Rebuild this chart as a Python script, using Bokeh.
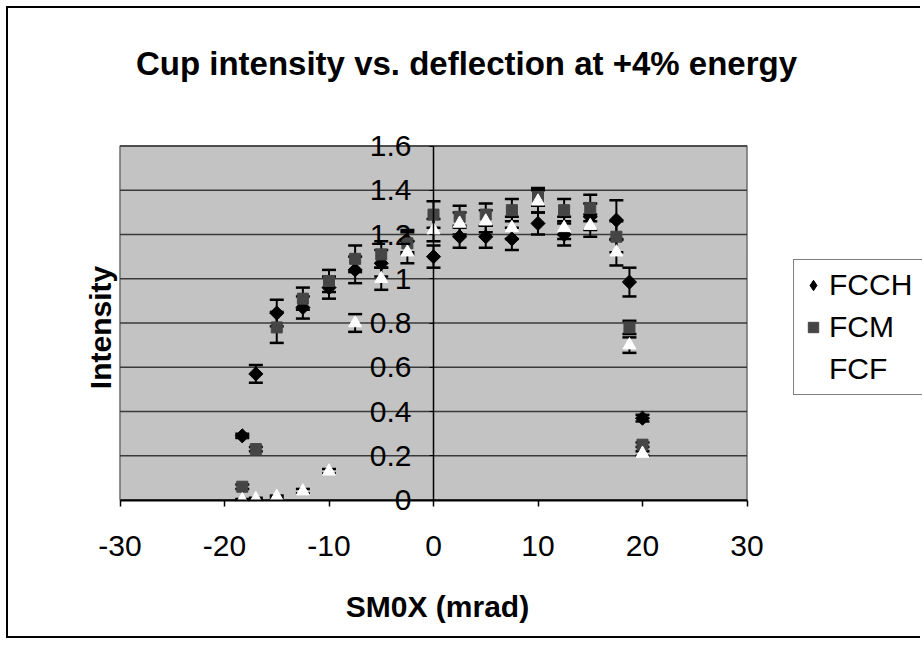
import math
from bokeh.plotting import figure
from bokeh.models import (ColumnDataSource, Whisker, TeeHead, Legend, LegendItem,
                          FixedTicker, Range1d, Label)
from bokeh.embed import file_html
from bokeh.resources import INLINE

# ---- data ----
x_vals = [-18.3, -17.0, -15.0, -12.5, -10.0, -7.5, -5.0, -2.5, 0.0, 2.5, 5.0, 7.5,
          10.0, 12.5, 15.0, 17.5, 18.75, 20.0]
fcch = [0.29, 0.57, 0.845, 0.87, 0.96, 1.04, 1.07, 1.17, 1.10, 1.19, 1.19, 1.18,
        1.25, 1.20, 1.28, 1.265, 0.985, 0.37]
fcch_err = [0.01, 0.04, 0.06, 0.05, 0.05, 0.06, 0.06, 0.05, 0.05, 0.05, 0.05, 0.05,
            0.05, 0.05, 0.06, 0.09, 0.065, 0.015]
fcm = [0.06, 0.23, 0.78, 0.91, 0.99, 1.09, 1.11, 1.16, 1.29, 1.28, 1.29, 1.31,
       1.37, 1.31, 1.32, 1.19, 0.78, 0.25]
fcm_err = [0.01, 0.01, 0.07, 0.05, 0.05, 0.06, 0.06, 0.05, 0.06, 0.05, 0.05, 0.05,
           0.04, 0.05, 0.06, 0.07, 0.03, 0.01]
fcf = [0.0, 0.005, 0.015, 0.04, 0.13, 0.80, 1.00, 1.12, 1.22, 1.25, 1.26, 1.23,
       1.35, 1.23, 1.24, 1.12, 0.70, 0.21]
fcf_err = [0.005, 0.005, 0.005, 0.01, 0.01, 0.04, 0.05, 0.05, 0.05, 0.05, 0.05, 0.05,
           0.05, 0.05, 0.05, 0.06, 0.035, 0.01]

x_min, x_max = -30, 30
y_min, y_max = 0.0, 1.6
x_ticks = [-30, -20, -10, 0, 10, 20, 30]
x_tick_labels = ["-30", "-20", "-10", "0", "10", "20", "30"]
y_ticks = [0, 0.2, 0.4, 0.6, 0.8, 1.0, 1.2, 1.4, 1.6]
y_tick_labels = ["0", "0.2", "0.4", "0.6", "0.8", "1", "1.2", "1.4", "1.6"]

title_text = "Cup intensity vs. deflection at +4% energy"
x_title = "SM0X (mrad)"
y_title = "Intensity"

FONT = "Liberation Sans"

# ---- layout (pixels inside the figure) ----
W, H = 914, 632
plot_left_px, plot_bottom_px = 111.5, 140.5
plot_w_px, plot_h_px = 627.0, 354.0
ux = (x_max - x_min) / plot_w_px
uy = (y_max - y_min) / plot_h_px
x_lo = x_min - plot_left_px * ux
y_lo = y_min - plot_bottom_px * uy

p = figure(width=W, height=H, output_backend="svg", toolbar_location=None,
           x_range=Range1d(x_lo, x_lo + W * ux), y_range=Range1d(y_lo, y_lo + H * uy),
           min_border=0, min_border_left=0, min_border_right=0,
           min_border_top=0, min_border_bottom=0,
           background_fill_color="white", border_fill_color="white",
           outline_line_color=None,
           styles={"margin-left": "6px", "margin-top": "6px",
                   "border-left": "2px solid black", "border-top": "2px solid black",
                   "border-bottom": "2px solid black"})

p.xgrid.visible = False
p.ygrid.visible = False

# plot area (gray) and horizontal gridlines
p.quad(left=[x_min], right=[x_max], bottom=[y_min], top=[y_max],
       fill_color="#c3c3c3", line_color="#6e6e6e", line_width=1.5, level="underlay")
p.segment(x0=[x_min] * len(y_ticks), x1=[x_max] * len(y_ticks), y0=y_ticks, y1=y_ticks,
          line_color="#3a3a3a", line_width=1.5, level="underlay")

# x axis at y = 0
xa = p.xaxis[0]
xa.fixed_location = 0
xa.bounds = (x_min, x_max)
xa.ticker = FixedTicker(ticks=x_ticks)
xa.major_label_overrides = {t: l for t, l in zip(x_ticks, x_tick_labels)}
xa.axis_line_color = "black"
xa.axis_line_width = 2
xa.major_tick_out = 6
xa.major_tick_in = 0
xa.major_tick_line_color = "black"
xa.major_tick_line_width = 1.5
xa.minor_tick_line_color = None
xa.major_label_text_font = FONT
xa.major_label_text_font_size = "30px"
xa.major_label_text_color = "black"
xa.major_label_standoff = 30

# y axis crossing at x = 0
ya = p.yaxis[0]
ya.fixed_location = 0
ya.bounds = (y_min, y_max)
ya.ticker = FixedTicker(ticks=y_ticks)
ya.major_label_overrides = {t: l for t, l in zip(y_ticks, y_tick_labels)}
ya.axis_line_color = "black"
ya.axis_line_width = 1.5
ya.major_tick_out = 4
ya.major_tick_in = 0
ya.major_tick_line_color = "black"
ya.minor_tick_line_color = None
ya.major_label_text_font = FONT
ya.major_label_text_font_size = "30px"
ya.major_label_text_color = "black"
ya.major_label_standoff = 18

# series: error bars under the markers
series = [
    ("FCCH", fcch, fcch_err, "square", 10, math.pi / 4, "diamond", "black"),
    ("FCM", fcm, fcm_err, "square", 11, 0.0, "square", "#454545"),
    ("FCF", fcf, fcf_err, "triangle", 13, 0.0, "triangle", "white"),
]
items = []
for name, vals, errs, marker, size, ang, key_marker, color in series:
    src = ColumnDataSource(dict(
        x=x_vals, y=vals,
        upper=[v + e for v, e in zip(vals, errs)],
        lower=[max(v - e, 0) for v, e in zip(vals, errs)],
    ))
    w = Whisker(base="x", upper="upper", lower="lower", source=src,
                dimension="height", line_color="black", line_width=2,
                level="underlay",
                upper_head=TeeHead(size=14, line_color="black", line_width=2.5),
                lower_head=TeeHead(size=14, line_color="black", line_width=2.5))
    p.add_layout(w)
    # legend key glyph (same points, drawn beneath the plotted marker)
    key = p.scatter("x", "y", source=src, marker=key_marker, size=size,
                    fill_color=color, line_color=color)
    if key_marker != marker or ang != 0.0:
        p.scatter("x", "y", source=src, marker=marker, size=size, angle=ang,
                  fill_color=color, line_color=color)
    items.append(LegendItem(label=name, renderers=[key]))

legend = Legend(items=items, location=(785, 245), orientation="vertical",
                label_text_font=FONT, label_text_font_size="30px",
                label_text_color="black", label_height=38, glyph_height=38,
                glyph_width=26, label_standoff=3, spacing=4, padding=6,
                label_width=120,
                border_line_color="black", border_line_width=1.5,
                background_fill_color="white", background_fill_alpha=1.0,
                margin=0)
p.add_layout(legend, "center")

# texts (positions in pixels from the figure's lower-left corner)
p.add_layout(Label(x=458, y=577, x_units="screen", y_units="screen",
                   text=title_text, text_align="center", text_baseline="middle",
                   text_font=FONT, text_font_size="33px", text_font_style="bold",
                   text_color="black"))
p.add_layout(Label(x=429, y=34, x_units="screen", y_units="screen",
                   text=x_title, text_align="center", text_baseline="middle",
                   text_font=FONT, text_font_size="30px", text_font_style="bold",
                   text_color="black"))
p.add_layout(Label(x=92, y=313, x_units="screen", y_units="screen",
                   text=y_title, text_align="center", text_baseline="middle",
                   angle=math.pi / 2,
                   text_font=FONT, text_font_size="30px", text_font_style="bold",
                   text_color="black"))

open("out.html", "w").write(file_html(p, INLINE))
